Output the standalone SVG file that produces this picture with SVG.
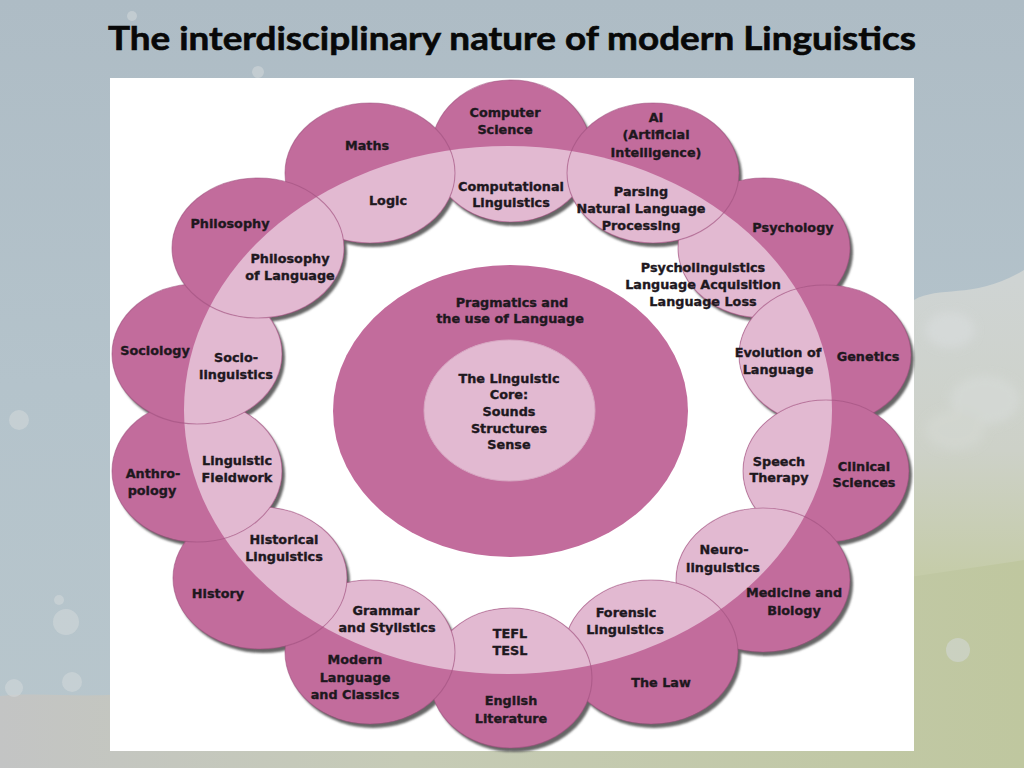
<svg xmlns="http://www.w3.org/2000/svg" width="1024" height="768" viewBox="0 0 1024 768">
<defs>
  <linearGradient id="bg" x1="0" y1="0" x2="0" y2="1">
    <stop offset="0" stop-color="#aebcc5"/>
    <stop offset="0.5" stop-color="#b4c3cb"/>
    <stop offset="1" stop-color="#b8c6cc"/>
  </linearGradient>
  <linearGradient id="rightG" gradientUnits="userSpaceOnUse" x1="0" y1="280" x2="0" y2="768">
    <stop offset="0" stop-color="#cfd4d3"/>
    <stop offset="0.35" stop-color="#cdd1c8"/>
    <stop offset="0.6" stop-color="#c5cca9"/>
    <stop offset="1" stop-color="#bfc79e"/>
  </linearGradient>
  <linearGradient id="bottomG" gradientUnits="userSpaceOnUse" x1="0" y1="0" x2="1024" y2="0">
    <stop offset="0" stop-color="#c3c4c4"/>
    <stop offset="0.4" stop-color="#c6cbb6"/>
    <stop offset="1" stop-color="#bfc79f"/>
  </linearGradient>
  <clipPath id="ring"><ellipse cx="508" cy="410" rx="324" ry="264"/></clipPath>
  <filter id="soft" x="-10%" y="-10%" width="120%" height="120%"><feGaussianBlur stdDeviation="1"/></filter>
  <filter id="blur" x="-20%" y="-20%" width="140%" height="140%"><feGaussianBlur stdDeviation="5"/></filter>
</defs>
<style>
  .dk{fill:#c26c9c}
  .lt{fill:#e2b9d1}
  .ol{fill:none;stroke:#9d4e7c;stroke-opacity:.55;stroke-width:1.1}
  .sh{fill:#666666}
  .dot{fill:#d3d8da;opacity:.55}
  .lbl{font-family:"DejaVu Sans","Liberation Sans",sans-serif;font-weight:bold;font-size:12.8px;fill:#1e181e;stroke:#1e181e;stroke-width:0.35px;text-anchor:middle}
  .title{font-family:Lato,"Open Sans","Liberation Sans",sans-serif;font-weight:bold;font-size:32px;fill:#080808;stroke:#080808;stroke-width:0.6px;text-anchor:middle}
</style>

<!-- background -->
<rect x="0" y="0" width="1024" height="768" fill="url(#bg)"/>
<path d="M914,300 C940,285 975,300 1024,270 L1024,768 L900,768 Z" fill="url(#rightG)"/>
<path d="M0,696 C40,692 80,698 120,694 L1024,560 L1024,768 L0,768 Z" fill="url(#bottomG)"/>
<g filter="url(#blur)" opacity="0.7">
  <ellipse cx="950" cy="330" rx="25" ry="18" fill="#d8dcdc"/>
  <ellipse cx="985" cy="400" rx="35" ry="25" fill="#d6dad7"/>
  <ellipse cx="955" cy="430" rx="30" ry="20" fill="#d4d8d2"/>
</g>
<g>
  <circle class="dot" cx="19" cy="420" r="10"/>
  <circle class="dot" cx="66" cy="622" r="13"/>
  <circle class="dot" cx="59" cy="600" r="5"/>
  <circle class="dot" cx="72" cy="682" r="10"/>
  <circle class="dot" cx="14" cy="688" r="9"/>
  <circle class="dot" cx="258" cy="72" r="6"/>
  <circle class="dot" cx="132" cy="16" r="5"/>
  <circle class="dot" cx="958" cy="650" r="12"/>
</g>

<!-- title -->
<text class="title" x="512" y="50" textLength="808" lengthAdjust="spacingAndGlyphs">The interdisciplinary nature of modern Linguistics</text>

<!-- white panel -->
<rect x="110" y="78" width="804" height="673" fill="#ffffff"/>

<!-- drop shadows -->
<g id="shadows" filter="url(#soft)" transform="translate(3,4)">
  <ellipse class="sh" cx="511" cy="151" rx="80" ry="71"/>
  <ellipse class="sh" cx="653" cy="173" rx="86" ry="70"/>
  <ellipse class="sh" cx="764" cy="248" rx="86" ry="70"/>
  <ellipse class="sh" cx="825" cy="355" rx="86" ry="70"/>
  <ellipse class="sh" cx="826" cy="471" rx="83" ry="71"/>
  <ellipse class="sh" cx="763" cy="580" rx="87" ry="72"/>
  <ellipse class="sh" cx="651" cy="652" rx="87" ry="72"/>
  <ellipse class="sh" cx="511" cy="678" rx="81" ry="70"/>
  <ellipse class="sh" cx="370" cy="652" rx="85" ry="72"/>
  <ellipse class="sh" cx="260" cy="578" rx="87" ry="71"/>
  <ellipse class="sh" cx="197" cy="471" rx="85" ry="71"/>
  <ellipse class="sh" cx="197" cy="354" rx="85" ry="70"/>
  <ellipse class="sh" cx="258" cy="248" rx="86" ry="70"/>
  <ellipse class="sh" cx="370" cy="173" rx="85" ry="70"/>
</g>

<!-- centre -->
<g id="n-pragmatics">
  <ellipse class="dk" cx="510.5" cy="411" rx="177.5" ry="146"/>
  <text class="lbl" x="512" y="307">Pragmatics and</text>
  <text class="lbl" x="510" y="323">the use of Language</text>
</g>
<g id="n-core">
  <ellipse class="lt" cx="509.5" cy="410.5" rx="85.5" ry="70.5" stroke="#d7a6c2" stroke-width="1"/>
  <text class="lbl" x="509" y="383">The Linguistic</text>
  <text class="lbl" x="509" y="399">Core:</text>
  <text class="lbl" x="509" y="416">Sounds</text>
  <text class="lbl" x="509" y="433">Structures</text>
  <text class="lbl" x="509" y="449">Sense</text>
</g>

<!-- ring of disciplines -->
<g id="n-computer-science">
  <ellipse class="dk" cx="511" cy="151" rx="80" ry="71"/>
  <ellipse class="lt" clip-path="url(#ring)" cx="511" cy="151" rx="80" ry="71"/>
  <ellipse class="ol" cx="511" cy="151" rx="80" ry="71"/>
  <text class="lbl" x="505" y="117">Computer</text>
  <text class="lbl" x="505" y="134">Science</text>
  <text class="lbl" x="511" y="191">Computational</text>
  <text class="lbl" x="511" y="207">Linguistics</text>
</g>
<g id="n-psychology">
  <ellipse class="dk" cx="764" cy="248" rx="86" ry="70"/>
  <ellipse class="lt" clip-path="url(#ring)" cx="764" cy="248" rx="86" ry="70"/>
  <ellipse class="ol" cx="764" cy="248" rx="86" ry="70"/>
  <text class="lbl" x="793" y="232">Psychology</text>
  <text class="lbl" x="703" y="272">Psycholinguistics</text>
  <text class="lbl" x="703" y="289">Language Acquisition</text>
  <text class="lbl" x="703" y="306">Language Loss</text>
</g>
<g id="n-ai">
  <ellipse class="dk" cx="653" cy="173" rx="86" ry="70"/>
  <ellipse class="lt" clip-path="url(#ring)" cx="653" cy="173" rx="86" ry="70"/>
  <ellipse class="ol" cx="653" cy="173" rx="86" ry="70"/>
  <text class="lbl" x="656" y="122">AI</text>
  <text class="lbl" x="656" y="139">(Artificial</text>
  <text class="lbl" x="656" y="157">Intelligence)</text>
  <text class="lbl" x="641" y="196">Parsing</text>
  <text class="lbl" x="641" y="213">Natural Language</text>
  <text class="lbl" x="641" y="230">Processing</text>
</g>
<g id="n-genetics">
  <ellipse class="dk" cx="825" cy="355" rx="86" ry="70"/>
  <ellipse class="lt" clip-path="url(#ring)" cx="825" cy="355" rx="86" ry="70"/>
  <ellipse class="ol" cx="825" cy="355" rx="86" ry="70"/>
  <text class="lbl" x="868" y="361">Genetics</text>
  <text class="lbl" x="778" y="357">Evolution of</text>
  <text class="lbl" x="778" y="374">Language</text>
</g>
<g id="n-clinical">
  <ellipse class="dk" cx="826" cy="471" rx="83" ry="71"/>
  <ellipse class="lt" clip-path="url(#ring)" cx="826" cy="471" rx="83" ry="71"/>
  <ellipse class="ol" cx="826" cy="471" rx="83" ry="71"/>
  <text class="lbl" x="864" y="471">Clinical</text>
  <text class="lbl" x="864" y="487">Sciences</text>
  <text class="lbl" x="779" y="466">Speech</text>
  <text class="lbl" x="779" y="482">Therapy</text>
</g>
<g id="n-medicine">
  <ellipse class="dk" cx="763" cy="580" rx="87" ry="72"/>
  <ellipse class="lt" clip-path="url(#ring)" cx="763" cy="580" rx="87" ry="72"/>
  <ellipse class="ol" cx="763" cy="580" rx="87" ry="72"/>
  <text class="lbl" x="794" y="597">Medicine and</text>
  <text class="lbl" x="794" y="615">Biology</text>
  <text class="lbl" x="724" y="554">Neuro-</text>
  <text class="lbl" x="723" y="572">linguistics</text>
</g>
<g id="n-law">
  <ellipse class="dk" cx="651" cy="652" rx="87" ry="72"/>
  <ellipse class="lt" clip-path="url(#ring)" cx="651" cy="652" rx="87" ry="72"/>
  <ellipse class="ol" cx="651" cy="652" rx="87" ry="72"/>
  <text class="lbl" x="661" y="687">The Law</text>
  <text class="lbl" x="626" y="617">Forensic</text>
  <text class="lbl" x="625" y="634">Linguistics</text>
</g>
<g id="n-english">
  <ellipse class="dk" cx="511" cy="678" rx="81" ry="70"/>
  <ellipse class="lt" clip-path="url(#ring)" cx="511" cy="678" rx="81" ry="70"/>
  <ellipse class="ol" cx="511" cy="678" rx="81" ry="70"/>
  <text class="lbl" x="511" y="705">English</text>
  <text class="lbl" x="511" y="723">Literature</text>
  <text class="lbl" x="510" y="638">TEFL</text>
  <text class="lbl" x="510" y="655">TESL</text>
</g>
<g id="n-modern-language">
  <ellipse class="dk" cx="370" cy="652" rx="85" ry="72"/>
  <ellipse class="lt" clip-path="url(#ring)" cx="370" cy="652" rx="85" ry="72"/>
  <ellipse class="ol" cx="370" cy="652" rx="85" ry="72"/>
  <text class="lbl" x="355" y="664">Modern</text>
  <text class="lbl" x="355" y="682">Language</text>
  <text class="lbl" x="355" y="699">and Classics</text>
  <text class="lbl" x="386" y="615">Grammar</text>
  <text class="lbl" x="387" y="632">and Stylistics</text>
</g>
<g id="n-history">
  <ellipse class="dk" cx="260" cy="578" rx="87" ry="71"/>
  <ellipse class="lt" clip-path="url(#ring)" cx="260" cy="578" rx="87" ry="71"/>
  <ellipse class="ol" cx="260" cy="578" rx="87" ry="71"/>
  <text class="lbl" x="218" y="598">History</text>
  <text class="lbl" x="284" y="544">Historical</text>
  <text class="lbl" x="284" y="561">Linguistics</text>
</g>
<g id="n-anthropology">
  <ellipse class="dk" cx="197" cy="471" rx="85" ry="71"/>
  <ellipse class="lt" clip-path="url(#ring)" cx="197" cy="471" rx="85" ry="71"/>
  <ellipse class="ol" cx="197" cy="471" rx="85" ry="71"/>
  <text class="lbl" x="153" y="478">Anthro-</text>
  <text class="lbl" x="152" y="495">pology</text>
  <text class="lbl" x="237" y="465">Linguistic</text>
  <text class="lbl" x="237" y="482">Fieldwork</text>
</g>
<g id="n-sociology">
  <ellipse class="dk" cx="197" cy="354" rx="85" ry="70"/>
  <ellipse class="lt" clip-path="url(#ring)" cx="197" cy="354" rx="85" ry="70"/>
  <ellipse class="ol" cx="197" cy="354" rx="85" ry="70"/>
  <text class="lbl" x="155" y="355">Sociology</text>
  <text class="lbl" x="236" y="362">Socio-</text>
  <text class="lbl" x="236" y="379">linguistics</text>
</g>
<g id="n-maths">
  <ellipse class="dk" cx="370" cy="173" rx="85" ry="70"/>
  <ellipse class="lt" clip-path="url(#ring)" cx="370" cy="173" rx="85" ry="70"/>
  <ellipse class="ol" cx="370" cy="173" rx="85" ry="70"/>
  <text class="lbl" x="367" y="150">Maths</text>
  <text class="lbl" x="388" y="205">Logic</text>
</g>
<g id="n-philosophy">
  <ellipse class="dk" cx="258" cy="248" rx="86" ry="70"/>
  <ellipse class="lt" clip-path="url(#ring)" cx="258" cy="248" rx="86" ry="70"/>
  <ellipse class="ol" cx="258" cy="248" rx="86" ry="70"/>
  <text class="lbl" x="230" y="228">Philosophy</text>
  <text class="lbl" x="290" y="263">Philosophy</text>
  <text class="lbl" x="290" y="280">of Language</text>
</g>
</svg>
